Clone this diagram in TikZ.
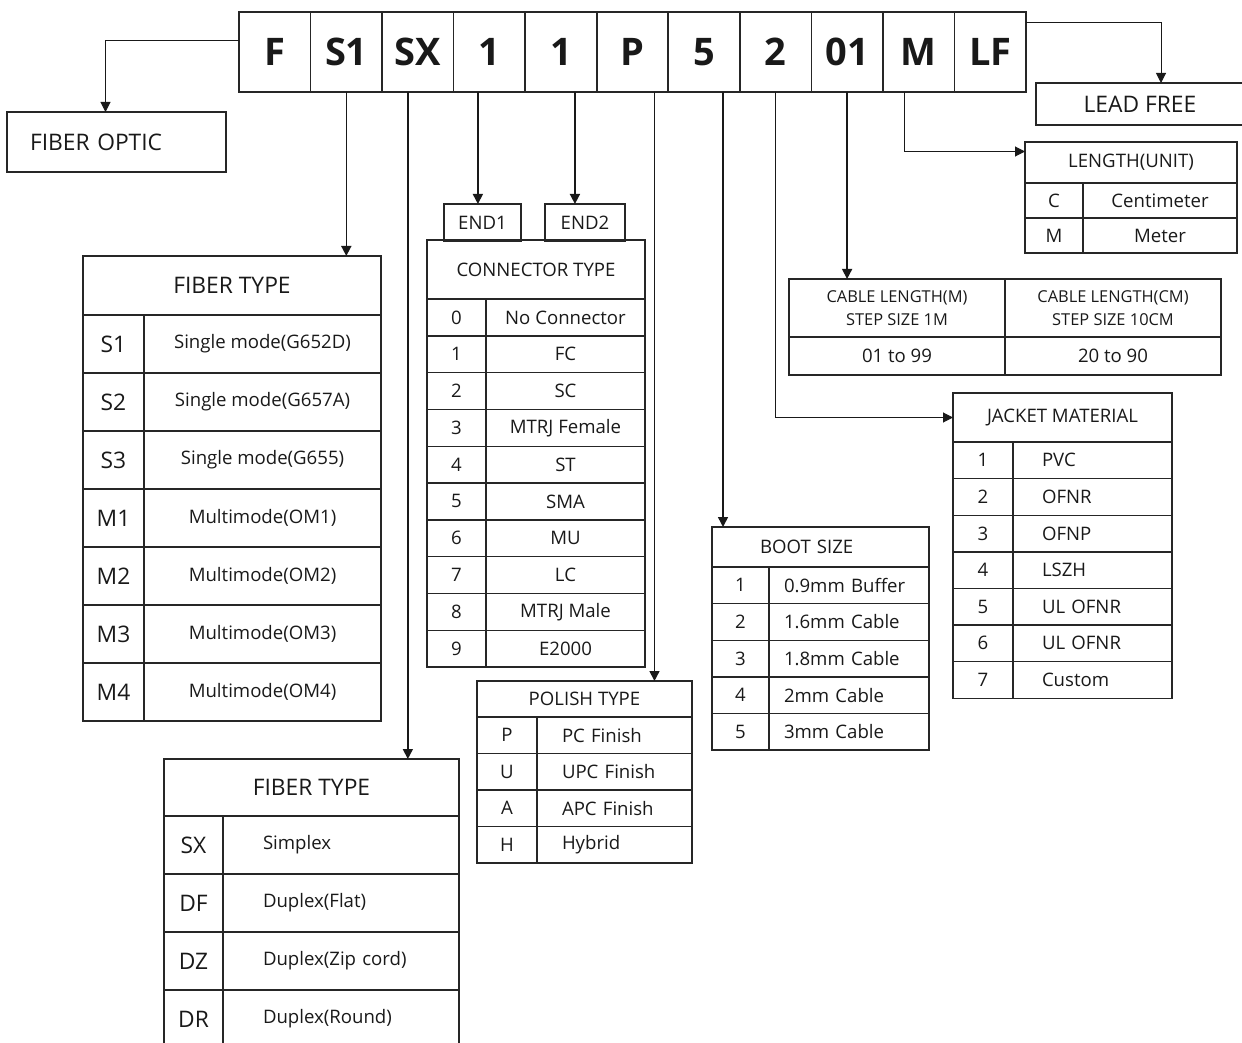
\documentclass[tikz,border=0pt]{standalone}
\usepackage{fontspec}
\setmainfont{Open Sans}
\usetikzlibrary{arrows.meta, positioning}
\newcommand{\codesize}{\fontsize{19}{22}\selectfont\bfseries}
\newcommand{\titlesize}{\fontsize{11.4}{14}\selectfont}
\newcommand{\rowsize}{\fontsize{9.3}{11}\selectfont}
\newcommand{\capsize}{\fontsize{8.2}{11.5}\selectfont}

\begin{document}
\begin{tikzpicture}[
  x=0.5pt, y=-0.5pt,
  codecell/.style={rectangle, draw=black!85, line width=0.8pt, minimum width=35.77pt, minimum height=40pt, inner sep=0pt, outer sep=0pt, font=\codesize, text=black!90},
  cell/.style={rectangle, draw=black!85, line width=0.7pt, inner sep=0pt, outer sep=0pt, align=center, font=\rowsize, text=black!90},
  head/.style={cell, anchor=north west},
  key/.style={cell, anchor=north west},
  val/.style={cell},
  lval/.style={cell, align=left},
  arrow/.style={-{Triangle[length=5pt, width=5pt]}, line width=0.8pt, draw=black!90},
  thin arrow/.style={arrow, line width=0.5pt}
]
\useasboundingbox (0,0) rectangle (1242,1043);
\clip (0,0) rectangle (1242,1043);

% part number code
\node[codecell, anchor=north west] (cF) at (239,12) {F};
\node[codecell, right=0pt of cF] (cS1) {S1};
\node[codecell, right=0pt of cS1] (cSX) {SX};
\node[codecell, right=0pt of cSX] (cEA) {1};
\node[codecell, right=0pt of cEA] (cEB) {1};
\node[codecell, right=0pt of cEB] (cP) {P};
\node[codecell, right=0pt of cP] (cBoot) {5};
\node[codecell, right=0pt of cBoot] (cJacket) {2};
\node[codecell, right=0pt of cJacket] (cLen) {01};
\node[codecell, right=0pt of cLen] (cUnit) {M};
\node[codecell, right=0pt of cUnit] (cLF) {LF};

\node[lval, anchor=north west, text width=86.5pt, inner xsep=11.5pt, minimum height=30pt, font=\titlesize] (fo) at (7,112) {FIBER OPTIC};
\node[cell, anchor=north west, minimum width=104pt, minimum height=21pt, font=\titlesize] (lf) at (1036,83) {LEAD FREE};

% fiber type
\node[head, minimum width=149pt, minimum height=29.5pt, font=\titlesize] (ft-head) at (83,256) {FIBER TYPE};
\foreach \k/\v [count=\i] in {S1/Single mode(G652D), S2/Single mode(G657A), S3/Single mode(G655), M1/Multimode(OM1), M2/Multimode(OM2), M3/Multimode(OM3), M4/Multimode(OM4)} {
  \node[key, minimum width=30.5pt, minimum height=29pt, font=\titlesize] (ft-\i-k) at (83,{315+(\i-1)*58}) {\k};
  \node[val, minimum width=118.5pt, minimum height=29pt, right=0pt of ft-\i-k] (ft-\i-v) {\v};
}

% cable structure
\node[head, minimum width=147.5pt, minimum height=28.5pt, font=\titlesize] (fx-head) at (164,759) {FIBER TYPE};
\foreach \k/\v [count=\i] in {SX/Simplex, DF/Duplex(Flat), DZ/Duplex(Zip cord), DR/Duplex(Round)} {
  \node[key, minimum width=29.5pt, minimum height=29pt, font=\titlesize] (fx-\i-k) at (164,{816+(\i-1)*58}) {\k};
  \node[lval, text width=78pt, inner xsep=20pt, minimum height=29pt, right=0pt of fx-\i-k] (fx-\i-v) {\v};
}

% connectors
\node[cell, anchor=north west, minimum width=38.5pt, minimum height=18.5pt] (end1) at (444,204) {END1};
\node[cell, anchor=north west, minimum width=40pt, minimum height=18.5pt] (end2) at (545,204) {END2};
\node[head, minimum width=109pt, minimum height=29.5pt] (ct-head) at (427,240) {CONNECTOR TYPE};
\foreach \k/\v [count=\i] in {0/No Connector, 1/FC, 2/SC, 3/MTRJ Female, 4/ST, 5/SMA, 6/MU, 7/LC, 8/MTRJ Male, 9/E2000} {
  \node[key, minimum width=29.5pt, minimum height=18.4pt] (ct-\i-k) at (427,{299+(\i-1)*36.8}) {\k};
  \node[val, minimum width=79.5pt, minimum height=18.4pt, right=0pt of ct-\i-k] (ct-\i-v) {\v};
}

% polish
\node[head, minimum width=107.5pt, minimum height=18pt] (pt-head) at (477,681) {POLISH TYPE};
\foreach \k/\v [count=\i] in {P/PC Finish, U/UPC Finish, A/APC Finish, H/Hybrid} {
  \node[key, minimum width=30pt, minimum height=18.25pt] (pt-\i-k) at (477,{717+(\i-1)*36.5}) {\k};
  \node[lval, text width=52.5pt, inner xsep=12.5pt, minimum height=18.25pt, right=0pt of pt-\i-k] (pt-\i-v) {\v};
}

% boot
\node[head, lval, text width=60.5pt, inner xsep=24pt, minimum height=20pt] (bt-head) at (712,527) {BOOT SIZE};
\foreach \k/\v [count=\i] in {1/0.9mm Buffer, 2/1.6mm Cable, 3/1.8mm Cable, 4/2mm Cable, 5/3mm Cable} {
  \node[key, minimum width=28.5pt, minimum height=18.3pt] (bt-\i-k) at (712,{567+(\i-1)*36.6}) {\k};
  \node[lval, text width=65pt, inner xsep=7.5pt, minimum height=18.3pt, right=0pt of bt-\i-k] (bt-\i-v) {\v};
}

% jacket
\node[head, minimum width=109.5pt, minimum height=24.5pt] (jt-head) at (953,393) {JACKET MATERIAL};
\foreach \k/\v [count=\i] in {1/PVC, 2/OFNR, 3/OFNP, 4/LSZH, 5/UL OFNR, 6/UL OFNR, 7/Custom} {
  \node[key, minimum width=30pt, minimum height=18.3pt] (jt-\i-k) at (953,{442+(\i-1)*36.6}) {\k};
  \node[lval, text width=50.5pt, inner xsep=14.5pt, minimum height=18.3pt, right=0pt of jt-\i-k] (jt-\i-v) {\v};
}

% cable length
\node[head, minimum width=108pt, minimum height=29pt, font=\capsize] (cl-m) at (789,279) {CABLE LENGTH(M)\\STEP SIZE 1M};
\node[cell, minimum width=108pt, minimum height=29pt, font=\capsize, right=0pt of cl-m] (cl-cm) {CABLE LENGTH(CM)\\STEP SIZE 10CM};
\node[cell, minimum width=108pt, minimum height=19pt, below=0pt of cl-m] (cl-m-v) {01 to 99};
\node[cell, minimum width=108pt, minimum height=19pt, below=0pt of cl-cm] (cl-cm-v) {20 to 90};

% length unit
\node[head, minimum width=106pt, minimum height=20.5pt] (lu-head) at (1025,142) {LENGTH(UNIT)};
\foreach \k/\v [count=\i] in {C/Centimeter, M/Meter} {
  \node[key, minimum width=29pt, minimum height=17.5pt] (lu-\i-k) at (1025,{183+(\i-1)*35}) {\k};
  \node[val, minimum width=77pt, minimum height=17.5pt, right=0pt of lu-\i-k] (lu-\i-v) {\v};
}

% leaders
\draw[thin arrow] ([yshift=5.5pt]cF.west) -| ([xshift=-5.5pt]fo.north);
\draw[thin arrow] ([yshift=14.5pt]cLF.east) -| ([xshift=10.5pt]lf.north);
\draw[thin arrow] ([xshift=-7pt]cUnit.south) |- ([yshift=5.5pt]lu-head.west);
\draw[thin arrow] (cJacket.south) |- (jt-head.west);
\draw[arrow] (cLen.south) -- (cLen.south |- cl-m.north);
\draw[arrow] ([xshift=9.5pt]cBoot.south) -- ([xshift=9.5pt]cBoot.south |- bt-head.north);
\draw[arrow] ([xshift=11pt]cP.south) -- ([xshift=11pt]cP.south |- pt-head.north);
\draw[arrow] ([xshift=-5.75pt]cEA.south) -- ([xshift=-5.75pt]cEA.south |- end1.north);
\draw[arrow] ([xshift=7pt]cEB.south) -- ([xshift=7pt]cEB.south |- end2.north);
\draw[arrow] (cS1.south) -- (cS1.south |- ft-head.north);
\draw[arrow] ([xshift=-5pt]cSX.south) -- ([xshift=-5pt]cSX.south |- fx-head.north);

\end{tikzpicture}
\end{document}
